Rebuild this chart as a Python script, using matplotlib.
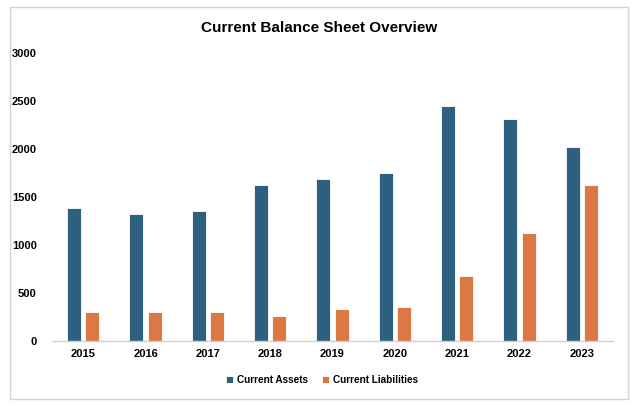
import matplotlib
matplotlib.use("Agg")
import matplotlib.pyplot as plt
from matplotlib.patches import Rectangle
import numpy as np

years = ["2015", "2016", "2017", "2018", "2019", "2020", "2021", "2022", "2023"]
current_assets = [1382, 1326, 1357, 1625, 1685, 1748, 2450, 2311, 2022]
current_liabilities = [303, 303, 296, 255, 331, 352, 672, 1124, 1629]
yticks = [0, 500, 1000, 1500, 2000, 2500, 3000]

blue = "#2D5F7E"
orange = "#DD7844"

plt.rcParams['font.family'] = ['Liberation Sans', 'DejaVu Sans']

fig = plt.figure(figsize=(6.4, 4.05), dpi=100)
ax = fig.add_axes([52/640, 1-340.7/405, (613-52)/640, (340.7-53.3)/405])

x = np.arange(len(years))
w = 0.225
off = 0.145
ax.bar(x - off, current_assets, w, color=blue, edgecolor="white", linewidth=0.6, label="Current Assets")
ax.bar(x + off, current_liabilities, w, color=orange, edgecolor="white", linewidth=0.6, label="Current Liabilities")

ax.set_xlim(-0.5, len(years) - 0.5)
ax.set_ylim(0, 3000)
ax.set_xticks(x)
ax.set_xticklabels(years, fontsize=8, fontweight="bold")
ax.set_yticks(yticks)
ax.set_yticklabels([str(v) for v in yticks], fontsize=8, fontweight="bold")
ax.tick_params(axis="both", length=0)
ax.tick_params(axis="y", pad=11)
ax.tick_params(axis="x", pad=6)
for s in ["top", "right", "left"]:
    ax.spines[s].set_visible(False)
ax.spines["bottom"].set_color("#D0D0D0")
ax.spines["bottom"].set_linewidth(1.0)

fig.text(319/640, 1-28/405, "Current Balance Sheet Overview", ha="center", va="center",
         fontsize=11, fontweight="bold")

leg = fig.legend(loc="center", bbox_to_anchor=(322/640, 1-380/405), ncol=2, frameon=False,
                 fontsize=7.2, handlelength=0.7, handleheight=0.7, handletextpad=0.4,
                 columnspacing=1.4)
for t in leg.get_texts():
    t.set_fontweight("bold")

border = Rectangle((10/640, 1-399/405), (628-10)/640, (399-7)/405, transform=fig.transFigure,
                   fill=False, edgecolor="#D4D4D4", linewidth=1.0)
fig.patches.append(border)

fig.savefig("out.png", dpi=100)
